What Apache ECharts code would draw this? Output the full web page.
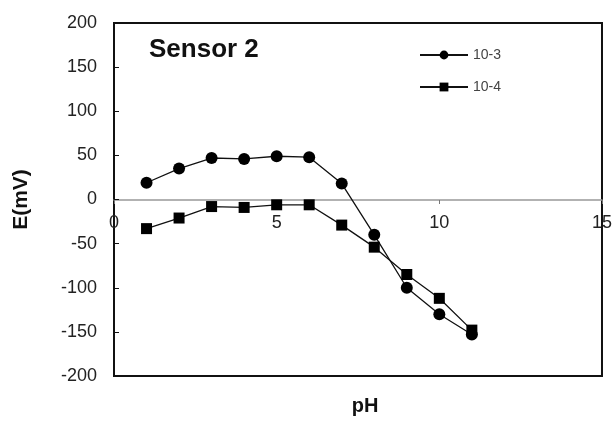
<!DOCTYPE html>
<html lang="en">
<head>
    <meta charset="UTF-8">
    <title>Sensor 2</title>
    <script type="text/javascript" src="https://cdn.jsdelivr.net/npm/echarts@6/dist/echarts.min.js"></script>
    <style>
        html, body { margin: 0; padding: 0; background: #fff; }
    </style>
</head>
<body>
<div id="chart" style="width: 615px;height: 423px"></div>
<script type="text/javascript">
    // data
    var pH = [1, 2, 3, 4, 5, 6, 7, 8, 9, 10, 11]
    var e103 = [19, 35, 47, 46, 49, 48, 18, -40, -100, -130, -153]
    var e104 = [-33, -21, -8, -9, -6, -6, -29, -54, -85, -112, -148]
    var seriesNames = ['10-3', '10-4']

    function pairs(xs, ys) {
        var out = []
        for (var i = 0; i < xs.length; i++) {
            out.push([xs[i], ys[i]])
        }
        return out
    }

    var myChart = echarts.init(document.getElementById('chart'))
    var font = 'Liberation Sans, Arial, sans-serif'

    var option = {
        animation: false,
        title: [
            {
                text: 'Sensor 2',
                left: 144,
                top: 32,
                textStyle: { fontFamily: font, fontSize: 26, fontWeight: 'bold', color: '#111' }
            },
            {
                text: 'pH',
                left: 360,
                top: 391,
                textAlign: 'center',
                textStyle: { fontFamily: font, fontSize: 20, fontWeight: 'bold', color: '#111' }
            }
        ],
        legend: {
            orient: 'vertical',
            left: 414,
            top: 43,
            itemWidth: 48,
            itemHeight: 11,
            itemGap: 18,
            data: seriesNames,
            textStyle: { fontFamily: font, fontSize: 14, color: '#444' }
        },
        grid: {
            left: 114,
            right: 12,
            top: 23,
            bottom: 47,
            show: true,
            borderColor: '#111',
            borderWidth: 2
        },
        xAxis: {
            type: 'value',
            min: 0,
            max: 15,
            interval: 5,
            position: 'bottom',
            offset: -176,
            axisLine: { onZero: false, lineStyle: { color: '#999', width: 1.5 } },
            axisTick: { show: true, inside: false, length: 4, lineStyle: { color: '#777' } },
            axisLabel: { margin: 14, fontFamily: font, fontSize: 18, color: '#222' },
            splitLine: { show: false }
        },
        yAxis: {
            type: 'value',
            min: -200,
            max: 200,
            interval: 50,
            name: 'E(mV)',
            nameLocation: 'middle',
            nameGap: 82,
            nameTextStyle: { fontFamily: font, fontSize: 21, fontWeight: 'bold', color: '#111' },
            axisLine: { onZero: false, lineStyle: { color: '#111', width: 2 } },
            axisTick: { show: true, inside: true, length: 5, lineStyle: { color: '#111' } },
            axisLabel: { margin: 17, fontFamily: font, fontSize: 18, color: '#222' },
            splitLine: { show: false }
        },
        series: [
            {
                name: seriesNames[0],
                type: 'line',
                data: pairs(pH, e103),
                symbol: 'circle',
                symbolSize: 12,
                lineStyle: { color: '#111', width: 1.3 },
                itemStyle: { color: '#000' }
            },
            {
                name: seriesNames[1],
                type: 'line',
                data: pairs(pH, e104),
                symbol: 'rect',
                symbolSize: 11,
                lineStyle: { color: '#111', width: 1.3 },
                itemStyle: { color: '#000' }
            }
        ]
    };
    option && myChart.setOption(option);
</script>
</body>
</html>
